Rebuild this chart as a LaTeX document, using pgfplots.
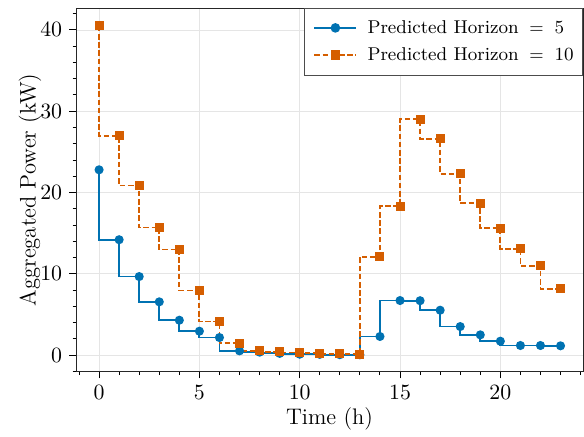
\documentclass[border=0pt]{standalone}
\usepackage{pgfplots}
\pgfplotsset{compat=1.18}
\definecolor{cblue}{HTML}{0072B2}
\definecolor{corange}{HTML}{D55E00}

\begin{document}
\begin{tikzpicture}
\begin{axis}[
  scale only axis,
  width=253.5bp, height=181.8bp,
  xmin=-1.15, xmax=24.12,
  ymin=-2.02, ymax=42.7,
  xtick={0,5,10,15,20},
  ytick={0,10,20,30,40},
  minor xtick={-1,0,...,24},
  minor ytick={-2,0,...,42},
  tick align=outside,
  tick pos=left,
  major tick length=3.4bp,
  minor tick length=1.7bp,
  every tick/.style={black, line width=0.5pt},
  axis line style={black!85, line width=0.5pt},
  grid=major,
  grid style={black!10, line width=0.4pt},
  tick label style={font=\fontsize{11.4}{13}\selectfont},
  label style={font=\fontsize{11.3}{13}\selectfont},
  xlabel={Time (h)},
  ylabel={Aggregated Power (kW)},
  xlabel style={at={(axis description cs:0.5,-0.146)}, anchor=base},
  ylabel style={at={(axis description cs:-0.0907,0.5)}, anchor=center},
  legend style={at={(1,1)}, anchor=north east, draw=black!70,
    fill=white, font=\fontsize{9.3}{11}\selectfont,
    inner xsep=4.5bp, inner ysep=5.5bp, row sep=4.5bp, column sep=5bp,
    nodes={inner sep=0pt, text height=7bp, text depth=2bp}},
  legend cell align=left,
  legend image code/.code={
    \draw[mark repeat=2, mark phase=2, #1, line width=1.15pt]
      plot coordinates {(0bp,0.25bp) (10.5bp,0.25bp) (21bp,0.25bp)};
  },
]
\addplot[const plot mark right, cblue, line width=0.9pt, mark=*,
  mark size=1.8bp, mark options={solid, fill=cblue}] coordinates {
  (0,22.8) (1,14.2) (2,9.67) (3,6.56) (4,4.3) (5,2.95) (6,2.17) (7,0.53)
  (8,0.37) (9,0.22) (10,0.12) (11,0.1) (12,0.06) (13,0.05) (14,2.3)
  (15,6.72) (16,6.7) (17,5.53) (18,3.52) (19,2.5) (20,1.72) (21,1.19)
  (22,1.19) (23,1.15)
};
\addlegendentry{Predicted Horizon\hspace{0.58em}$=$\hspace{0.58em}5}
\addplot[const plot mark right, corange, line width=0.9pt,
  dash pattern=on 2.8bp off 1.3bp, mark=square*,
  mark size=1.8bp, mark options={solid, fill=corange}] coordinates {
  (0,40.5) (1,26.97) (2,20.86) (3,15.7) (4,13.0) (5,7.95) (6,4.14) (7,1.48)
  (8,0.53) (9,0.4) (10,0.33) (11,0.25) (12,0.15) (13,0.1) (14,12.1)
  (15,18.3) (16,29.0) (17,26.6) (18,22.3) (19,18.7) (20,15.6) (21,13.1)
  (22,11.0) (23,8.16)
};
\addlegendentry{Predicted Horizon\hspace{0.58em}$=$\hspace{0.58em}10}
\end{axis}
\path (current axis.south west) ++(-38bp,-30.2bp) coordinate (bbl);
\path (current axis.north east) ++(0.5bp,4bp) coordinate (btr);
\path (bbl) rectangle (btr);
\end{tikzpicture}
\end{document}
